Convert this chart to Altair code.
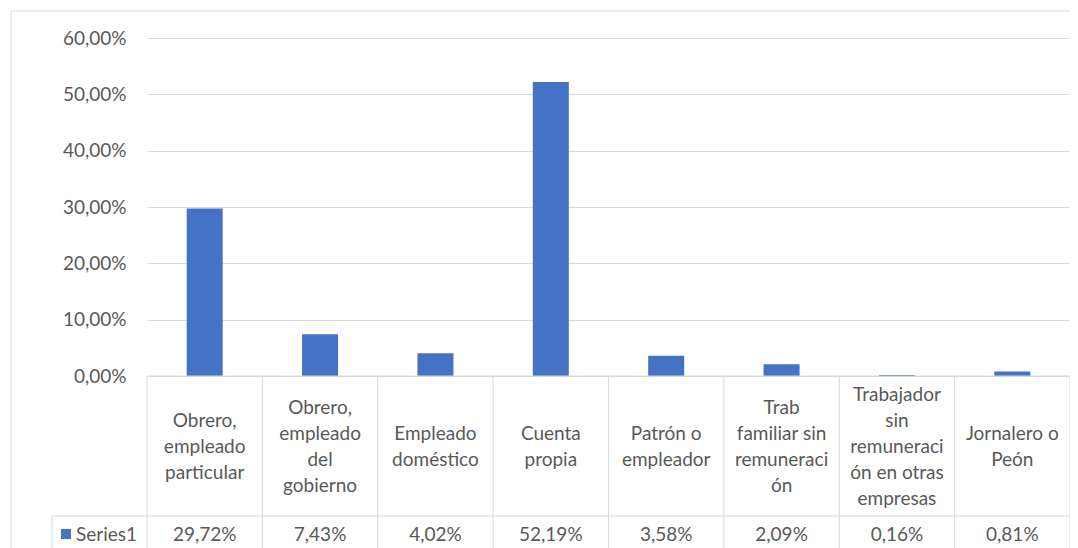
import altair as alt
import pandas as pd

categories = [
    "Obrero,\nempleado\nparticular",
    "Obrero,\nempleado\ndel\ngobierno",
    "Empleado\ndoméstico",
    "Cuenta\npropia",
    "Patrón o\nempleador",
    "Trab\nfamiliar sin\nremuneraci\nón",
    "Trabajador\nsin\nremuneraci\nón en otras\nempresas",
    "Jornalero o\nPeón",
]
values = [0.2972, 0.0743, 0.0402, 0.5219, 0.0358, 0.0209, 0.0016, 0.0081]
series_name = "Series1"
y_ticks = [0, 0.1, 0.2, 0.3, 0.4, 0.5, 0.6]

df = pd.DataFrame({"cat": categories, "value": values})

W = 923          # plot width (8 columns)
H = 510          # total drawing height (bars + table)
Y0 = 338         # pixel of 0 %
GRID = "#d9d9d9"
TXT = "#595959"
BLUE = "#4472C4"
FONT = "Lato"
FS = 19
LH = 26

xscale = alt.Scale(domain=categories, range=[0, W], paddingInner=0, paddingOuter=0)
X = alt.X("cat:N", scale=xscale, axis=None, sort=None)

base = alt.Chart(df)

bars = base.mark_bar(width=36, color=BLUE).encode(
    x=X,
    y=alt.Y(
        "value:Q",
        scale=alt.Scale(domain=[0, 0.6], range=[Y0, 0], nice=False, zero=True),
        axis=alt.Axis(
            values=y_ticks,
            labelExpr="replace(format(datum.value, '.2%'), '.', ',')",
            grid=True, gridColor=GRID, gridWidth=1,
            domain=False, ticks=False, title=None,
            labelPadding=21, labelFontSize=FS, labelFont=FONT, labelColor=TXT,
        ),
    ),
)

header = base.transform_calculate(
    off=f"-(length(split(datum.cat, '\\n')) - 1) * {LH} / 2"
).mark_text(
    lineBreak="\n", fontSize=FS, font=FONT, color=TXT,
    align="center", baseline="middle", lineHeight=LH,
).encode(
    x=X, y=alt.value(409),
    yOffset=alt.YOffset("off:Q", scale=None),
    text="cat:N",
)

vals = base.transform_calculate(
    lab="replace(format(datum.value, '.2%'), '.', ',')"
).mark_text(
    fontSize=FS, font=FONT, color=TXT, align="center", baseline="middle"
).encode(x=X, y=alt.value(497), text="lab:N")

vlines = base.mark_rule(color=GRID, strokeWidth=1).encode(
    x=alt.X("cat:N", scale=xscale, axis=None, sort=None, bandPosition=0),
    y=alt.value(Y0), y2=alt.value(H + 10),
)

one = alt.Chart(pd.DataFrame({"s": [series_name]}))

right_line = one.mark_rule(color=GRID).encode(
    x=alt.value(W), y=alt.value(Y0), y2=alt.value(H + 10))
left_cell = one.mark_rule(color=GRID).encode(
    x=alt.value(-95), y=alt.value(478), y2=alt.value(H + 10))
top_line = one.mark_rule(color=GRID).encode(
    x=alt.value(0), x2=alt.value(W), y=alt.value(Y0))
mid_line = one.mark_rule(color=GRID).encode(
    x=alt.value(-95), x2=alt.value(W), y=alt.value(478))

# outer chart-area border
border_top = one.mark_rule(color="#d9d9d9").encode(
    x=alt.value(-136), x2=alt.value(W + 20), y=alt.value(-27))
border_left = one.mark_rule(color="#d9d9d9").encode(
    x=alt.value(-136), y=alt.value(-27), y2=alt.value(H + 10))

legend_sq = one.mark_square(size=100, color=BLUE, opacity=1).encode(
    x=alt.value(-81), y=alt.value(496))
legend_txt = one.mark_text(
    fontSize=FS, font=FONT, color=TXT, align="left", baseline="middle"
).encode(x=alt.value(-71), y=alt.value(497), text="s:N")

chart = alt.layer(
    border_top, border_left,
    bars, top_line, mid_line, vlines, right_line, left_cell,
    header, vals, legend_sq, legend_txt,
).properties(
    width=W, height=H,
    autosize=alt.AutoSizeParams(type="none"),
    padding={"left": 139, "top": 30, "right": 0, "bottom": 0},
    background="white",
).configure_view(stroke=None)

chart.save("out.html", embed_options={"renderer": "svg", "actions": False})
